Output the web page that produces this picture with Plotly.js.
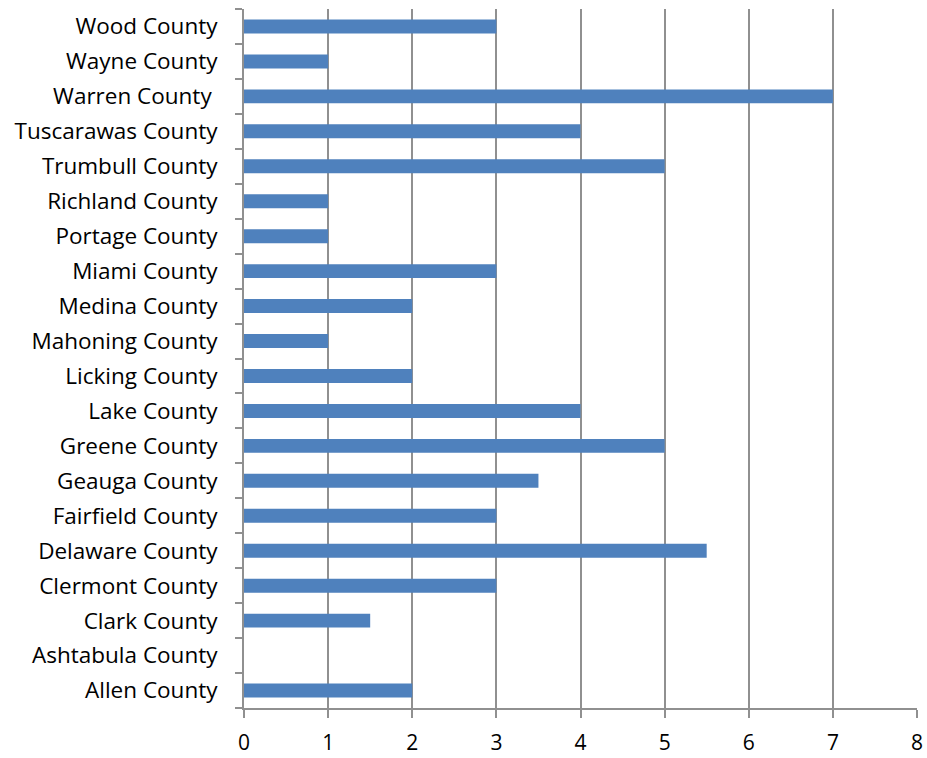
<!DOCTYPE html>
<html>
<head>
<meta charset="utf-8">
<script src="https://cdn.plot.ly/plotly-3.0.1.min.js"></script>
<style>html,body{margin:0;padding:0;background:#fff;}#chart{width:927px;height:758px;}</style>
</head>
<body>
<div id="chart"></div>
<script>
const counties = ["Allen County","Ashtabula County","Clark County","Clermont County","Delaware County","Fairfield County","Geauga County","Greene County","Lake County","Licking County","Mahoning County","Medina County","Miami County","Portage County","Richland County","Trumbull County","Tuscarawas County","Warren County\u00A0","Wayne County","Wood County"];
const values = [2,0,1.5,3,5.5,3,3.5,5,4,2,1,2,3,1,1,5,4,7,1,3];
const xTicks = [0,1,2,3,4,5,6,7,8];

const trace = {
  type: "bar",
  orientation: "h",
  x: values,
  y: counties,
  marker: {color: "#4F81BD", line: {width: 0}},
  hoverinfo: "x+y"
};
const layout = {
  width: 927, height: 758,
  margin: {l: 244, r: 10, t: 9, b: 50},
  paper_bgcolor: "#fff", plot_bgcolor: "#fff",
  showlegend: false,
  bargap: 0.6,
  font: {family: "Open Sans, Liberation Sans, sans-serif", color: "#000"},
  xaxis: {
    range: [0, 8], tickvals: xTicks, ticktext: xTicks.map(String),
    showgrid: true, gridcolor: "#909090", gridwidth: 2,
    zeroline: false, showline: true, linecolor: "#909090", linewidth: 2,
    ticks: "outside", ticklen: 8, tickcolor: "#909090", tickwidth: 2,
    tickfont: {size: 21}, ticklabelstandoff: 7, fixedrange: true
  },
  yaxis: {
    type: "category", categoryorder: "array", categoryarray: counties,
    showgrid: false, zeroline: false, showline: true, linecolor: "#909090", linewidth: 2,
    ticks: "outside", ticklen: 7, tickcolor: "#909090", tickwidth: 2, tickson: "boundaries",
    tickfont: {size: 22.5}, ticklabelstandoff: 20, fixedrange: true
  }
};
Plotly.newPlot("chart", [trace], layout, {displayModeBar: false, staticPlot: true});
</script>
</body>
</html>
